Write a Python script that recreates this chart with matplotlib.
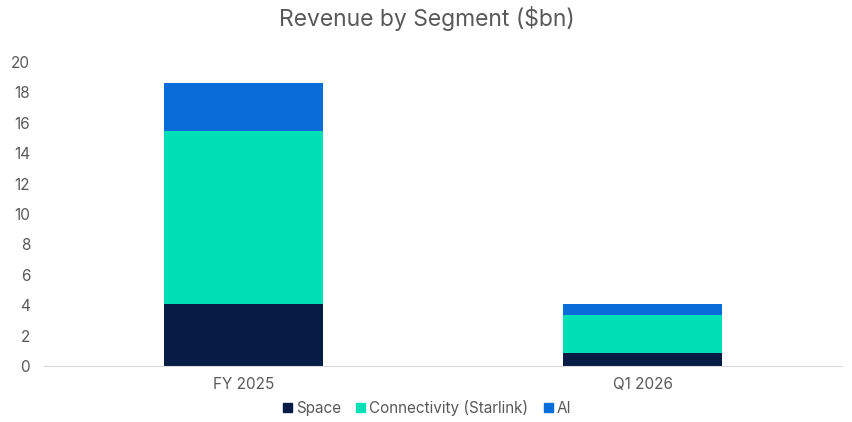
import numpy as np
import matplotlib.pyplot as plt
from matplotlib.patches import Patch

plt.rcParams['font.family'] = ['Inter', 'DejaVu Sans']

# Data
categories = ['FY 2025', 'Q1 2026']
segments = ['Space', 'Connectivity (Starlink)', 'AI']
space = [4.1, 0.85]
connectivity = [11.35, 2.5]
ai = [3.15, 0.72]
colors = ['#061C45', '#00DFB5', '#086CD9']

text_color = '#595959'

fig = plt.figure(figsize=(8.53, 4.22), dpi=100)
ax = fig.add_axes([44/853, 1-366/422, 798/853, 304/422])

x = np.arange(len(categories))
bottom = np.zeros(len(categories))
for vals, col, name in zip([space, connectivity, ai], colors, segments):
    ax.bar(x, vals, width=0.4, bottom=bottom, color=col, label=name)
    bottom += np.array(vals)

ax.set_xlim(-0.5, 1.5)
ax.set_ylim(0, 20)
ax.set_yticks(range(0, 21, 2))
ax.set_xticks(x)
ax.set_xticklabels(categories)
for s in ['top', 'right', 'left']:
    ax.spines[s].set_visible(False)
ax.spines['bottom'].set_color('#D9D9D9')
ax.tick_params(axis='both', length=0, labelsize=11, colors=text_color)
ax.tick_params(axis='y', pad=10)
ax.tick_params(axis='x', pad=8)

fig.suptitle('Revenue by Segment ($bn)', y=0.985, fontsize=16.5, color=text_color)

handles = [Patch(color=c, label=n) for c, n in zip(colors, segments)]
fig.legend(handles=handles, loc='center', bbox_to_anchor=(427/853, 1-408/422),
           ncol=3, frameon=False, fontsize=11, labelcolor=text_color,
           handlelength=0.6, handleheight=0.6, handletextpad=0.25, columnspacing=1.0)

fig.savefig('out.png', dpi=100)
